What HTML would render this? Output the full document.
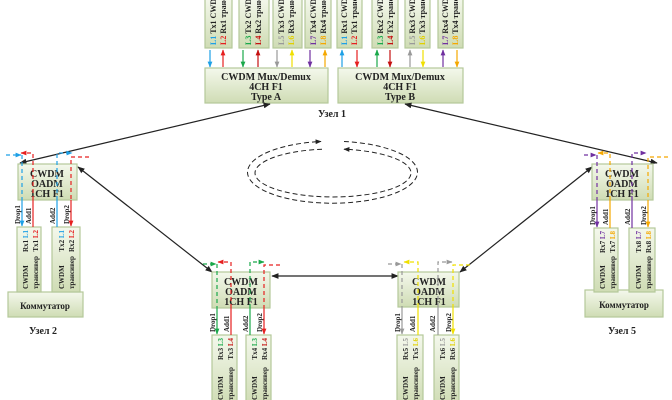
<!DOCTYPE html>
<html><head><meta charset="utf-8"><style>
html,body{margin:0;padding:0;background:#fff;}
svg{display:block;font-family:"Liberation Serif",serif;font-weight:bold;}
.bx{fill:url(#g);stroke:#b5c99a;stroke-width:1.2;}
.t{font-size:10px;text-anchor:middle;fill:#222;}
.s{font-size:8px;fill:#222;}
.r{font-size:7px;fill:#222;}
.e{text-anchor:end;}
.l{font-size:7px;fill:#222;}
.k{stroke:#222;stroke-width:1.2;fill:none;}
.d{stroke-dasharray:4 3;fill:none;stroke-width:1.2;}
.n{fill:none;stroke-width:1.2;}
</style></head><body>
<svg width="672" height="400" viewBox="0 0 672 400" xmlns="http://www.w3.org/2000/svg">
<defs>
<linearGradient id="g" x1="0" y1="0" x2="0" y2="1"><stop offset="0" stop-color="#f4f8ec"/><stop offset="1" stop-color="#cfdcb4"/></linearGradient>
<marker id="mk" viewBox="0 0 10 10" refX="9" refY="5" markerWidth="6" markerHeight="6" orient="auto-start-reverse"><path d="M0 1L10 5L0 9z" fill="#222"/></marker>
<marker id="m1" viewBox="0 0 10 10" refX="9" refY="5" markerWidth="5" markerHeight="5" orient="auto-start-reverse"><path d="M0 1L10 5L0 9z" fill="#1ea0e6"/></marker>
<marker id="m2" viewBox="0 0 10 10" refX="9" refY="5" markerWidth="5" markerHeight="5" orient="auto-start-reverse"><path d="M0 1L10 5L0 9z" fill="#e62020"/></marker>
<marker id="m3" viewBox="0 0 10 10" refX="9" refY="5" markerWidth="5" markerHeight="5" orient="auto-start-reverse"><path d="M0 1L10 5L0 9z" fill="#1aa84a"/></marker>
<marker id="m4" viewBox="0 0 10 10" refX="9" refY="5" markerWidth="5" markerHeight="5" orient="auto-start-reverse"><path d="M0 1L10 5L0 9z" fill="#c41010"/></marker>
<marker id="m5" viewBox="0 0 10 10" refX="9" refY="5" markerWidth="5" markerHeight="5" orient="auto-start-reverse"><path d="M0 1L10 5L0 9z" fill="#999"/></marker>
<marker id="m6" viewBox="0 0 10 10" refX="9" refY="5" markerWidth="5" markerHeight="5" orient="auto-start-reverse"><path d="M0 1L10 5L0 9z" fill="#f0e000"/></marker>
<marker id="m7" viewBox="0 0 10 10" refX="9" refY="5" markerWidth="5" markerHeight="5" orient="auto-start-reverse"><path d="M0 1L10 5L0 9z" fill="#7030a0"/></marker>
<marker id="m8" viewBox="0 0 10 10" refX="9" refY="5" markerWidth="5" markerHeight="5" orient="auto-start-reverse"><path d="M0 1L10 5L0 9z" fill="#f5a800"/></marker>
</defs>

<!-- Top transceivers -->
<rect class="bx" x="205" y="-2" width="27" height="50"/>
<rect class="bx" x="239" y="-2" width="30" height="50"/>
<rect class="bx" x="273" y="-2" width="29" height="50"/>
<rect class="bx" x="305" y="-2" width="26" height="50"/>
<rect class="bx" x="337" y="-2" width="25" height="50"/>
<rect class="bx" x="372" y="-2" width="26" height="50"/>
<rect class="bx" x="405" y="-2" width="25" height="50"/>
<rect class="bx" x="438" y="-2" width="25" height="50"/>
<g class="s">
<text transform="translate(216,45) rotate(-90)"><tspan fill="#1ea0e6">L1 </tspan>Tx1 CWDM трансивер</text>
<text transform="translate(226,45) rotate(-90)"><tspan fill="#e62020">L2 </tspan>Rx1 трансивер</text>
<text transform="translate(251,45) rotate(-90)"><tspan fill="#1aa84a">L3 </tspan>Tx2 CWDM</text>
<text transform="translate(261,45) rotate(-90)"><tspan fill="#c41010">L4 </tspan>Rx2 трансивер</text>
<text transform="translate(284,45) rotate(-90)"><tspan fill="#999">L5 </tspan>Tx3 CWDM</text>
<text transform="translate(294,45) rotate(-90)"><tspan fill="#e0d000">L6 </tspan>Rx3 трансивер</text>
<text transform="translate(316,45) rotate(-90)"><tspan fill="#7030a0">L7 </tspan>Tx4 CWDM</text>
<text transform="translate(326,45) rotate(-90)"><tspan fill="#f5a800">L8 </tspan>Rx4 трансивер</text>
<text transform="translate(347,45) rotate(-90)"><tspan fill="#1ea0e6">L1 </tspan>Rx1 CWDM</text>
<text transform="translate(357,45) rotate(-90)"><tspan fill="#e62020">L2 </tspan>Tx1 трансивер</text>
<text transform="translate(383,45) rotate(-90)"><tspan fill="#1aa84a">L3 </tspan>Rx2 CWDM</text>
<text transform="translate(393,45) rotate(-90)"><tspan fill="#c41010">L4 </tspan>Tx2 трансивер</text>
<text transform="translate(415,45) rotate(-90)"><tspan fill="#999">L5 </tspan>Rx3 CWDM</text>
<text transform="translate(425,45) rotate(-90)"><tspan fill="#e0d000">L6 </tspan>Tx3 трансивер</text>
<text transform="translate(448,45) rotate(-90)"><tspan fill="#7030a0">L7 </tspan>Rx4 CWDM</text>
<text transform="translate(458,45) rotate(-90)"><tspan fill="#f5a800">L8 </tspan>Tx4 трансивер</text>
</g>
<g class="n">
<path d="M210 50V67" stroke="#1ea0e6" marker-end="url(#m1)"/>
<path d="M223 67V50" stroke="#e62020" marker-end="url(#m2)"/>
<path d="M243 50V67" stroke="#1aa84a" marker-end="url(#m3)"/>
<path d="M258 67V50" stroke="#c41010" marker-end="url(#m4)"/>
<path d="M277 50V67" stroke="#999" marker-end="url(#m5)"/>
<path d="M292 67V50" stroke="#f0e000" marker-end="url(#m6)"/>
<path d="M310 50V67" stroke="#7030a0" marker-end="url(#m7)"/>
<path d="M325 67V50" stroke="#f5a800" marker-end="url(#m8)"/>
<path d="M342 67V50" stroke="#1ea0e6" marker-end="url(#m1)"/>
<path d="M357 50V67" stroke="#e62020" marker-end="url(#m2)"/>
<path d="M377 67V50" stroke="#1aa84a" marker-end="url(#m3)"/>
<path d="M390 50V67" stroke="#c41010" marker-end="url(#m4)"/>
<path d="M410 67V50" stroke="#999" marker-end="url(#m5)"/>
<path d="M423 50V67" stroke="#f0e000" marker-end="url(#m6)"/>
<path d="M443 67V50" stroke="#7030a0" marker-end="url(#m7)"/>
<path d="M457 50V67" stroke="#f5a800" marker-end="url(#m8)"/>
</g>
<rect class="bx" x="205" y="68" width="123" height="35"/>
<text class="t" x="266" y="80">CWDM Mux/Demux</text>
<text class="t" x="266" y="90">4CH F1</text>
<text class="t" x="266" y="100">Type A</text>
<rect class="bx" x="338" y="68" width="125" height="35"/>
<text class="t" x="400" y="80">CWDM Mux/Demux</text>
<text class="t" x="400" y="90">4CH F1</text>
<text class="t" x="400" y="100">Type B</text>
<text class="t" x="332" y="117">Узел 1</text>

<path class="k" d="M20 163L270 104" marker-start="url(#mk)" marker-end="url(#mk)"/>
<path class="k" d="M78 167L212 272" marker-start="url(#mk)" marker-end="url(#mk)"/>
<path class="k" d="M272 276H398" marker-start="url(#mk)" marker-end="url(#mk)"/>
<path class="k" d="M460 272L592 167" marker-start="url(#mk)" marker-end="url(#mk)"/>
<path class="k" d="M657 163L405 104" marker-start="url(#mk)" marker-end="url(#mk)"/>

<path d="M344 141.5 A85 31 0 1 1 321 141.5" stroke="#222" stroke-width="1" stroke-dasharray="5 3" fill="none" marker-end="url(#mk)"/>
<path d="M322 149.2 A78 24 0 1 0 344 149.2" stroke="#222" stroke-width="1" stroke-dasharray="5 3" fill="none" marker-end="url(#mk)"/>

<!-- Node 2 -->
<rect class="bx" x="8" y="292" width="75" height="25"/>
<text class="t" x="45" y="309" style="font-size:9px">Коммутатор</text>
<text class="t" x="43" y="334">Узел 2</text>
<rect class="bx" x="17" y="227" width="24" height="65"/>
<rect class="bx" x="52" y="227" width="28" height="65"/>
<rect class="bx" x="18" y="164" width="59" height="36"/>
<text class="t" x="47" y="177">CWDM</text><text class="t" x="47" y="187">OADM</text><text class="t" x="47" y="197">1CH F1</text>
<g class="r">
<text transform="translate(28,289) rotate(-90)">CWDM</text><text transform="translate(38,289) rotate(-90)">трансивер</text>
<text class="e" transform="translate(28,230) rotate(-90)">Rx1 <tspan fill="#1ea0e6">L1</tspan></text><text class="e" transform="translate(38,230) rotate(-90)">Tx1 <tspan fill="#e62020">L2</tspan></text>
<text transform="translate(64,289) rotate(-90)">CWDM</text><text transform="translate(74,289) rotate(-90)">трансивер</text>
<text class="e" transform="translate(64,230) rotate(-90)">Tx2 <tspan fill="#1ea0e6">L1</tspan></text><text class="e" transform="translate(74,230) rotate(-90)">Rx2 <tspan fill="#e62020">L2</tspan></text>
</g>
<g class="l">
<text transform="translate(20,224) rotate(-90)">Drop1</text><text transform="translate(31,224) rotate(-90)">Add1</text>
<text transform="translate(55,224) rotate(-90)">Add2</text><text transform="translate(69,224) rotate(-90)">Drop2</text>
</g>
<path class="d" stroke="#1ea0e6" d="M6 155H21" marker-end="url(#m1)"/><path class="d" stroke="#1ea0e6" d="M22 155V200"/><path class="n" stroke="#1ea0e6" d="M22 200V226" marker-end="url(#m1)"/>
<path class="n" stroke="#e62020" d="M33 227V200"/><path class="d" stroke="#e62020" d="M33 200V153H21" marker-end="url(#m2)"/>
<path class="n" stroke="#1ea0e6" d="M57 227V200"/><path class="d" stroke="#1ea0e6" d="M57 200V153H72" marker-end="url(#m1)"/>
<path class="d" stroke="#e62020" d="M89 157H71V200"/><path class="n" stroke="#e62020" d="M71 200V226" marker-end="url(#m2)"/>

<!-- Node 3 -->
<rect class="bx" x="212" y="335" width="25" height="70"/>
<rect class="bx" x="246" y="335" width="25" height="70"/>
<rect class="bx" x="212" y="272" width="58" height="36"/>
<text class="t" x="241" y="285">CWDM</text><text class="t" x="241" y="295">OADM</text><text class="t" x="241" y="305">1CH F1</text>
<g class="r">
<text transform="translate(223,400) rotate(-90)">CWDM</text><text transform="translate(233,400) rotate(-90)">трансивер</text>
<text class="e" transform="translate(223,338) rotate(-90)">Rx3 <tspan fill="#1aa84a">L3</tspan></text><text class="e" transform="translate(233,338) rotate(-90)">Tx3 <tspan fill="#c41010">L4</tspan></text>
<text transform="translate(257,400) rotate(-90)">CWDM</text><text transform="translate(267,400) rotate(-90)">трансивер</text>
<text class="e" transform="translate(257,338) rotate(-90)">Tx4 <tspan fill="#1aa84a">L3</tspan></text><text class="e" transform="translate(267,338) rotate(-90)">Rx4 <tspan fill="#c41010">L4</tspan></text>
</g>
<g class="l">
<text transform="translate(215,332) rotate(-90)">Drop1</text><text transform="translate(229,332) rotate(-90)">Add1</text>
<text transform="translate(248,332) rotate(-90)">Add2</text><text transform="translate(262,332) rotate(-90)">Drop2</text>
</g>
<path class="d" stroke="#1aa84a" d="M203 264H216" marker-end="url(#m3)"/><path class="d" stroke="#1aa84a" d="M217 264V308"/><path class="n" stroke="#1aa84a" d="M217 308V334" marker-end="url(#m3)"/>
<path class="n" stroke="#e62020" d="M231 335V308"/><path class="d" stroke="#e62020" d="M231 308V262H218" marker-end="url(#m2)"/>
<path class="n" stroke="#1aa84a" d="M250 335V308"/><path class="d" stroke="#1aa84a" d="M250 308V262H264" marker-end="url(#m3)"/>
<path class="d" stroke="#e62020" d="M280 265H264V308"/><path class="n" stroke="#e62020" d="M264 308V334" marker-end="url(#m2)"/>

<!-- Node 4 -->
<rect class="bx" x="397" y="335" width="26" height="70"/>
<rect class="bx" x="434" y="335" width="25" height="70"/>
<rect class="bx" x="398" y="272" width="61" height="35"/>
<text class="t" x="429" y="285">CWDM</text><text class="t" x="429" y="295">OADM</text><text class="t" x="429" y="305">1CH F1</text>
<g class="r">
<text transform="translate(408,400) rotate(-90)">CWDM</text><text transform="translate(418,400) rotate(-90)">трансивер</text>
<text class="e" transform="translate(408,338) rotate(-90)">Rx5 <tspan fill="#999">L5</tspan></text><text class="e" transform="translate(418,338) rotate(-90)">Tx5 <tspan fill="#e0d000">L6</tspan></text>
<text transform="translate(445,400) rotate(-90)">CWDM</text><text transform="translate(455,400) rotate(-90)">трансивер</text>
<text class="e" transform="translate(445,338) rotate(-90)">Tx6 <tspan fill="#999">L5</tspan></text><text class="e" transform="translate(455,338) rotate(-90)">Rx6 <tspan fill="#e0d000">L6</tspan></text>
</g>
<g class="l">
<text transform="translate(400,332) rotate(-90)">Drop1</text><text transform="translate(415,332) rotate(-90)">Add1</text>
<text transform="translate(435,332) rotate(-90)">Add2</text><text transform="translate(451,332) rotate(-90)">Drop2</text>
</g>
<path class="d" stroke="#999" d="M388 264H401" marker-end="url(#m5)"/><path class="d" stroke="#999" d="M402 264V307"/><path class="n" stroke="#999" d="M402 307V334" marker-end="url(#m5)"/>
<path class="n" stroke="#f0e000" d="M418 335V307"/><path class="d" stroke="#f0e000" d="M418 307V262H404" marker-end="url(#m6)"/>
<path class="n" stroke="#999" d="M438 335V307"/><path class="d" stroke="#999" d="M438 307V262H452" marker-end="url(#m5)"/>
<path class="d" stroke="#f0e000" d="M470 265H453V307"/><path class="n" stroke="#f0e000" d="M453 307V334" marker-end="url(#m6)"/>

<!-- Node 5 -->
<rect class="bx" x="585" y="290" width="78" height="27"/>
<text class="t" x="624" y="308" style="font-size:9px">Коммутатор</text>
<text class="t" x="622" y="334">Узел 5</text>
<rect class="bx" x="594" y="228" width="24" height="64"/>
<rect class="bx" x="629" y="228" width="26" height="64"/>
<rect class="bx" x="592" y="164" width="61" height="36"/>
<text class="t" x="622" y="177">CWDM</text><text class="t" x="622" y="187">OADM</text><text class="t" x="622" y="197">1CH F1</text>
<g class="r">
<text transform="translate(605,289) rotate(-90)">CWDM</text><text transform="translate(615,289) rotate(-90)">трансивер</text>
<text class="e" transform="translate(605,231) rotate(-90)">Rx7 <tspan fill="#7030a0">L7</tspan></text><text class="e" transform="translate(615,231) rotate(-90)">Tx7 <tspan fill="#f5a800">L8</tspan></text>
<text transform="translate(641,289) rotate(-90)">CWDM</text><text transform="translate(651,289) rotate(-90)">трансивер</text>
<text class="e" transform="translate(641,231) rotate(-90)">Tx8 <tspan fill="#7030a0">L7</tspan></text><text class="e" transform="translate(651,231) rotate(-90)">Rx8 <tspan fill="#f5a800">L8</tspan></text>
</g>
<g class="l">
<text transform="translate(595,225) rotate(-90)">Drop1</text><text transform="translate(608,225) rotate(-90)">Add1</text>
<text transform="translate(630,225) rotate(-90)">Add2</text><text transform="translate(646,225) rotate(-90)">Drop2</text>
</g>
<path class="d" stroke="#7030a0" d="M584 155H596" marker-end="url(#m7)"/><path class="d" stroke="#7030a0" d="M597 155V200"/><path class="n" stroke="#7030a0" d="M597 200V227" marker-end="url(#m7)"/>
<path class="n" stroke="#f5a800" d="M610 228V200"/><path class="d" stroke="#f5a800" d="M610 200V153H598" marker-end="url(#m8)"/>
<path class="n" stroke="#7030a0" d="M632 228V200"/><path class="d" stroke="#7030a0" d="M632 200V153H646" marker-end="url(#m7)"/>
<path class="d" stroke="#f5a800" d="M668 157H648V200"/><path class="n" stroke="#f5a800" d="M648 200V227" marker-end="url(#m8)"/>
</svg>
</body></html>
